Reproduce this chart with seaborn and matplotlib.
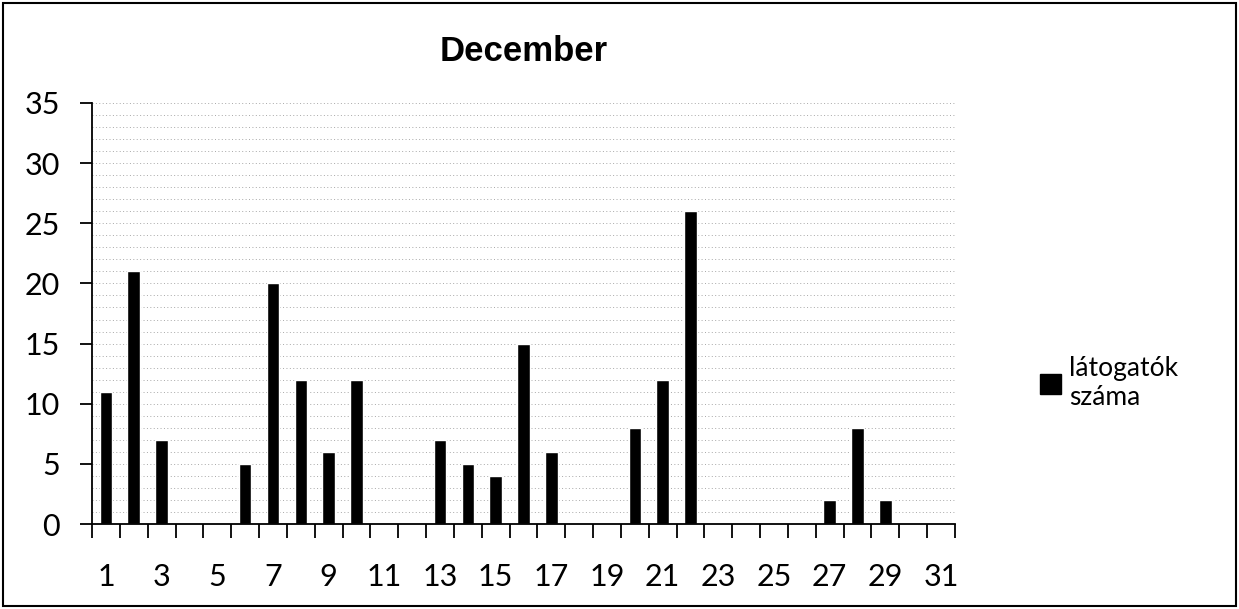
import matplotlib
matplotlib.use("Agg")
import matplotlib.pyplot as plt
import seaborn as sns
import pandas as pd
import numpy as np
from matplotlib.patches import Rectangle, Patch

days = list(range(1, 32))
visitors = [11, 21, 7, 0, 0, 5, 20, 12, 6, 12, 0, 0, 7, 5, 4, 15, 6, 0, 0, 8, 12, 26, 0, 0, 0, 0, 2, 8, 2, 0, 0]
series_name = "látogatók\nszáma"
title = "December"

sns.set_theme(style="white")
plt.rcParams['font.family'] = ['Lato', 'DejaVu Sans']
plt.rcParams['text.color'] = 'black'
plt.rcParams['xtick.color'] = 'black'
plt.rcParams['ytick.color'] = 'black'

df = pd.DataFrame({"day": [str(d) for d in days], "value": visitors})

fig = plt.figure(figsize=(12.39, 6.09), dpi=100)
ax = fig.add_axes([92/1239, 1-524/609, (955-92)/1239, (524-103)/609])

sns.barplot(data=df, x="day", y="value", order=[str(d) for d in days],
            color="black", width=0.45, ax=ax, saturation=1)

ax.set_ylim(0, 35)
ax.set_xlim(-0.5, 30.5)
ax.set_yticks(range(0, 36, 5))
ax.set_yticklabels([str(v) for v in range(0, 36, 5)], fontsize=22, color="black")
ax.set_yticks(range(0, 36, 1), minor=True)
ax.yaxis.grid(True, which="both", color="#a8a8a8", linestyle=(0, (1, 2.5)), linewidth=0.7)
ax.set_axisbelow(True)

odd_pos = [i for i, d in enumerate(days) if d % 2 == 1]
ax.set_xticks(odd_pos)
ax.set_xticklabels([str(days[i]) for i in odd_pos], fontsize=22, color="black")
ax.set_xticks(np.arange(-0.5, 31, 1), minor=True)
ax.tick_params(axis="x", which="both", bottom=True)
ax.tick_params(axis="y", which="both", left=True)
ax.tick_params(axis="x", which="major", length=0, pad=28)
ax.tick_params(axis="x", which="minor", length=10, width=1.3, color="black", direction="out")
ax.tick_params(axis="y", which="major", length=9, width=1.3, color="black", direction="out", pad=14)
ax.tick_params(axis="y", which="minor", length=0)
ax.set_xlabel("")
ax.set_ylabel("")

for s in ["top", "right"]:
    ax.spines[s].set_visible(False)
for s in ["left", "bottom"]:
    ax.spines[s].set_color("black")
    ax.spines[s].set_linewidth(1.3)

ax.set_title(title, fontsize=25, fontweight="bold", color="black",
             family=["Liberation Sans", "DejaVu Sans"], pad=30)

handle = Patch(facecolor="black", edgecolor="black")
leg = fig.legend([handle], [series_name], loc="center left", bbox_to_anchor=(1040/1239, 1-383/609),
                 frameon=False, fontsize=19, handlelength=0.8, handleheight=0.8, handletextpad=0.3,
                 borderaxespad=0, borderpad=0)
for t in leg.get_texts():
    t.set_color("black")

fig.patches.append(Rectangle((3/1239, 3/609), 1233/1239, 603/609, transform=fig.transFigure,
                             fill=False, edgecolor="black", linewidth=1.5))

fig.savefig("out.png", dpi=100, facecolor="white")
